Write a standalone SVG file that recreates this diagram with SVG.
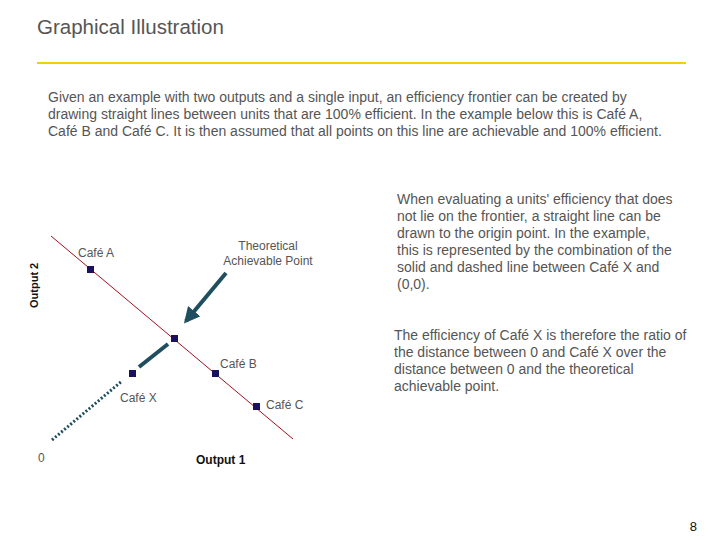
<svg xmlns="http://www.w3.org/2000/svg" width="720" height="540" viewBox="0 0 720 540">
<defs>
<style>
text{font-family:"Liberation Sans",Arial,sans-serif;fill:#555}
.b{font-size:14px}
.s{font-size:12px}
.pt{fill:#1a1060}
</style>
<marker id="ah" viewBox="0 0 10 10" refX="8" refY="5" markerWidth="4" markerHeight="4" orient="auto"><path d="M0,0L10,5L0,10z" fill="#1f4e5f"/></marker>
</defs>
<rect width="720" height="540" fill="#fff"/>
<text x="37" y="34" style="font-size:20.5px">Graphical Illustration</text>
<line x1="37" y1="63" x2="686" y2="63" stroke="#f0d000" stroke-width="2"/>
<text class="b" x="48" y="102">Given an example with two outputs and a single input, an efficiency frontier can be created by</text>
<text class="b" x="48" y="119">drawing straight lines between units that are 100% efficient.  In the example below this is Café A,</text>
<text class="b" x="48" y="136">Café B and Café C.  It is then assumed that all points on this line are achievable and 100% efficient.</text>
<text class="b" x="397" y="204">When evaluating a units' efficiency that does</text>
<text class="b" x="397" y="221">not lie on the frontier, a straight line can be</text>
<text class="b" x="397" y="238">drawn to the origin point.  In the example,</text>
<text class="b" x="397" y="255">this is represented by the combination of the</text>
<text class="b" x="397" y="272">solid and dashed line between Café X and</text>
<text class="b" x="397" y="289">(0,0).</text>
<text class="b" x="394" y="340">The efficiency of Café X is therefore the ratio of</text>
<text class="b" x="394" y="357">the distance between 0 and Café X over the</text>
<text class="b" x="394" y="374">distance between 0 and the theoretical</text>
<text class="b" x="394" y="391">achievable point.</text>
<g id="connectors">
<line x1="51" y1="236" x2="293" y2="439" stroke="#a01020" stroke-width="1"/>
<line x1="139" y1="367" x2="168" y2="344" stroke="#1f4e5f" stroke-width="4"/>
<line x1="52" y1="440" x2="122" y2="381" stroke="#1f4e5f" stroke-width="3" stroke-dasharray="2,2"/>
<line x1="226" y1="273" x2="186" y2="321" stroke="#1f4e5f" stroke-width="4" marker-end="url(#ah)"/>
</g>
<g id="cafeA"><rect class="pt" x="87" y="266" width="7" height="7"/><text class="s" x="78" y="257">Café A</text></g>
<g id="theoretical"><rect class="pt" x="171" y="335" width="7" height="7"/><text class="s" x="268" y="250" text-anchor="middle">Theoretical</text><text class="s" x="268" y="265" text-anchor="middle">Achievable Point</text></g>
<g id="cafeB"><rect class="pt" x="212" y="370" width="7" height="7"/><text class="s" x="220" y="368">Café B</text></g>
<g id="cafeC"><rect class="pt" x="253" y="403" width="7" height="7"/><text class="s" x="266" y="409">Café C</text></g>
<g id="cafeX"><rect class="pt" x="129" y="370" width="7" height="7"/><text class="s" x="120" y="402">Café X</text></g>
<text class="s" x="38" y="462">0</text>
<text x="196" y="464" style="font-size:12px;font-weight:bold;fill:#111">Output 1</text>
<text transform="translate(38,308) rotate(-90)" style="font-size:11px;font-weight:bold;fill:#111">Output 2</text>
<text x="697" y="531" text-anchor="end" style="font-size:13px;fill:#111">8</text>
</svg>
